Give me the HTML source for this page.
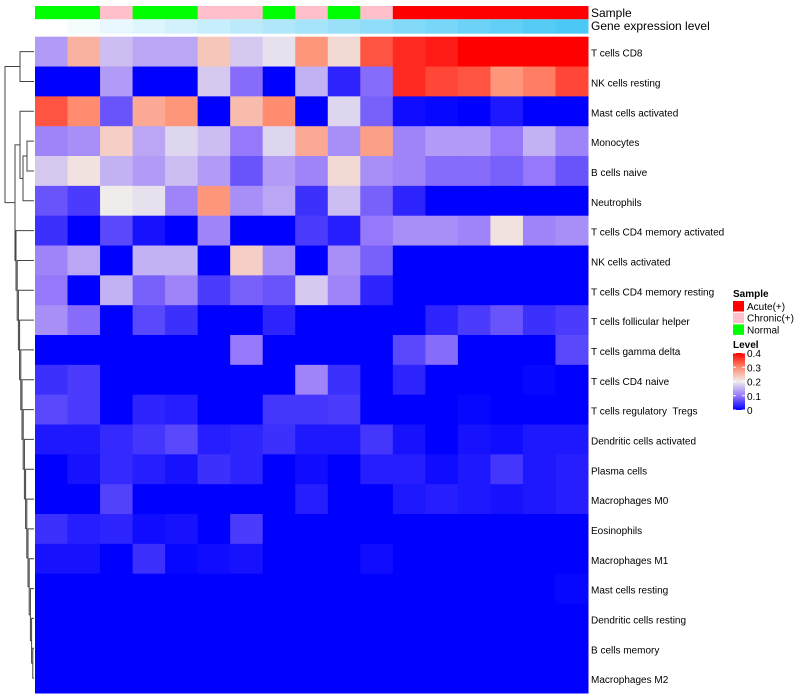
<!DOCTYPE html>
<html><head><meta charset="utf-8"><style>
body{margin:0;background:#fff;}
svg{display:block;font-family:"Liberation Sans",sans-serif;}
text{white-space:pre;}
</style></head><body>
<svg id="chart" width="800" height="700"></svg>
<script>
const rowNames=["T cells CD8","NK cells resting","Mast cells activated","Monocytes","B cells naive","Neutrophils","T cells CD4 memory activated","NK cells activated","T cells CD4 memory resting","T cells follicular helper","T cells gamma delta","T cells CD4 naive","T cells regulatory  Tregs","Dendritic cells activated","Plasma cells","Macrophages M0","Eosinophils","Macrophages M1","Mast cells resting","Dendritic cells resting","B cells memory","Macrophages M2"];
const sampleGroups=["Normal","Normal","Chronic(+)","Normal","Normal","Chronic(+)","Chronic(+)","Normal","Chronic(+)","Normal","Chronic(+)","Acute(+)","Acute(+)","Acute(+)","Acute(+)","Acute(+)","Acute(+)"];
const geneLevel=[0,1,2,3,4,5,6,7,8,9,10,11,12,13,14,15,16];
const values=[
[0.13,0.26,0.16,0.14,0.14,0.24,0.17,0.19,0.29,0.22,0.34,0.37,0.38,0.4,0.4,0.4,0.4],
[0,0,0.13,0,0,0.17,0.09,0,0.15,0.03,0.09,0.37,0.35,0.34,0.29,0.31,0.35],
[0.34,0.3,0.07,0.27,0.29,0,0.25,0.3,0,0.18,0.08,0.01,0.005,0,0.02,0,0],
[0.11,0.12,0.23,0.14,0.18,0.16,0.1,0.18,0.27,0.12,0.28,0.11,0.13,0.13,0.1,0.15,0.11],
[0.17,0.21,0.15,0.13,0.16,0.13,0.07,0.13,0.11,0.22,0.12,0.11,0.09,0.09,0.08,0.1,0.07],
[0.07,0.05,0.2,0.19,0.11,0.29,0.12,0.14,0.04,0.16,0.08,0.03,0,0,0,0,0],
[0.04,0,0.06,0.015,0,0.11,0,0,0.05,0.025,0.1,0.12,0.12,0.11,0.21,0.11,0.12],
[0.11,0.14,0,0.15,0.15,0,0.23,0.12,0,0.12,0.08,0,0,0,0,0,0],
[0.1,0,0.15,0.08,0.11,0.05,0.08,0.07,0.17,0.11,0.03,0,0,0,0,0,0],
[0.12,0.09,0,0.06,0.04,0,0,0.03,0,0,0,0,0.03,0.05,0.07,0.04,0.05],
[0,0,0,0,0,0,0.1,0,0,0,0,0.06,0.09,0,0,0,0.06],
[0.04,0.05,0,0,0,0,0,0,0.11,0.04,0,0.03,0,0,0,0.005,0],
[0.06,0.05,0,0.03,0.025,0,0,0.045,0.045,0.05,0,0,0,0.005,0,0,0],
[0.02,0.02,0.035,0.045,0.06,0.025,0.03,0.04,0.02,0.02,0.045,0.015,0,0.015,0.01,0.02,0.02],
[0,0.015,0.035,0.025,0.015,0.04,0.03,0,0.01,0,0.025,0.025,0.01,0.02,0.045,0.02,0.025],
[0,0,0.055,0,0,0,0,0,0.025,0,0,0.02,0.025,0.02,0.015,0.02,0.025],
[0.04,0.025,0.03,0.01,0.015,0,0.05,0,0,0,0,0,0,0,0,0,0],
[0.015,0.015,0,0.04,0.005,0.01,0.015,0,0,0,0.01,0,0,0,0,0,0],
[0,0,0,0,0,0,0,0,0,0,0,0,0,0,0,0,0.005],
[0,0,0,0,0,0,0,0,0,0,0,0,0,0,0,0,0],
[0,0,0,0,0,0,0,0,0,0,0,0,0,0,0,0,0],
[0,0,0,0,0,0,0,0,0,0,0,0,0,0,0,0,0]];
const legendTicks=[0,0.1,0.2,0.3,0.4];

const NS="http://www.w3.org/2000/svg";
const svg=document.getElementById('chart');
const X0=35,X1=588,Y0=36.7,Y1=693;
const cw=(X1-X0)/sampleGroups.length, rh=(Y1-Y0)/rowNames.length;
const xPos=i=>X0+i*cw, yPos=r=>Y0+r*rh;
const stops=[[0,[0,0,255]],[0.1,[150,120,250]],[0.2,[240,236,236]],[0.3,[255,140,110]],[0.4,[255,0,0]]];
function color(v){v=Math.max(0,Math.min(0.4,v));for(let i=0;i<stops.length-1;i++){const a=stops[i],b=stops[i+1];if(v<=b[0]){const t=(v-a[0])/(b[0]-a[0]);const c=a[1].map((x,k)=>Math.round(x+(b[1][k]-x)*t));return `rgb(${c})`;}}return 'red';}
const groupColor={"Acute(+)":"#ff0000","Chronic(+)":"#ffc0cb","Normal":"#00ff00"};
function mk(tag,attrs,parent){const e=document.createElementNS(NS,tag);for(const k in attrs)e.setAttribute(k,attrs[k]);(parent||svg).appendChild(e);return e;}

sampleGroups.forEach((g,i)=>{
 const r=mk('rect',{x:xPos(i),y:6,width:cw+0.5,height:13.3,fill:groupColor[g]});
 
 
});
geneLevel.forEach((g,i)=>{
 const t=g/16;
 const c=[255+(75-255)*t,255+(200-255)*t,255+(245-255)*t].map(Math.round);
 const r=mk('rect',{x:xPos(i),y:19.3,width:cw+0.5,height:14.4,fill:`rgb(${c})`});
 
 
});
const t1=mk('text',{x:591,y:17,'font-size':12});t1.textContent="Sample";


const t2=mk('text',{x:591,y:30,'font-size':12});t2.textContent="Gene expression level";



values.forEach((row,r)=>{
 row.forEach((v,c)=>{
  const e=mk('rect',{x:xPos(c),y:yPos(r),width:cw+0.5,height:rh+0.5,fill:color(v)});
  
  
 });
 const t=mk('text',{x:591,y:yPos(r)+rh/2+5,'font-size':10});
 t.textContent=rowNames[r];
 
 
});

const yc=r=>yPos(r)+rh/2;
const dg=mk('g',{stroke:'#444','stroke-width':1,fill:'none'});


function link(ya,xa,yb,xb,xm){mk('path',{d:`M${xa},${ya}H${xm}V${yb}H${xb}`},dg);}
let a=yc(0),b=yc(1);link(a,34,b,34,20);const A=(a+b)/2;
let c1=yc(3),c2=yc(4);link(c1,34,c2,34,27);let c=(c1+c2)/2;
link(c,27,yc(5),34,23);c=(c+yc(5))/2;
link(yc(2),34,c,23,20);let B=(yc(2)+c)/2;
let cy=yc(21),cx=34;
for(let r=20;r>=6;r--){const nx=Math.max(16,34-(21-r)*1.2);link(yc(r),34,cy,cx,nx);cy=(yc(r)+cy)/2;cx=nx;}
link(B,20,cy,cx,15);const C=(B+cy)/2;
link(A,20,C,15,5);

const lg=mk('g',{});


const lt=mk('text',{x:733,y:297,'font-size':10,'font-weight':'bold'},lg);lt.textContent="Sample";
["Acute(+)","Chronic(+)","Normal"].forEach((g,i)=>{
 const rr=mk('rect',{x:733,y:301+i*11.7,width:11,height:10.5,fill:groupColor[g]},lg);
 
 
 const tt=mk('text',{x:747,y:310+i*11.7,'font-size':10},lg);tt.textContent=g;
 
 
});
const lv=mk('text',{x:733,y:348,'font-size':10,'font-weight':'bold'},lg);lv.textContent="Level";
const defs=mk('defs',{});const grad=mk('linearGradient',{id:'lvg',x1:0,y1:1,x2:0,y2:0},defs);
stops.forEach(s=>mk('stop',{offset:s[0]/0.4,'stop-color':color(s[0])},grad));
const LB0=410,LB1=353;
mk('rect',{x:733,y:LB1,width:12,height:LB0-LB1,fill:'url(#lvg)'},lg);
legendTicks.forEach(v=>{
 const y=LB0-(v/0.4)*(LB0-LB1);
 mk('line',{x1:733,x2:736,y1:y,y2:y,stroke:'#fff'},lg);
 mk('line',{x1:742,x2:745,y1:y,y2:y,stroke:'#fff'},lg);
 const tt=mk('text',{x:747,y:y+4,'font-size':10},lg);tt.textContent=String(v);
 
 
});
</script>
</body></html>
